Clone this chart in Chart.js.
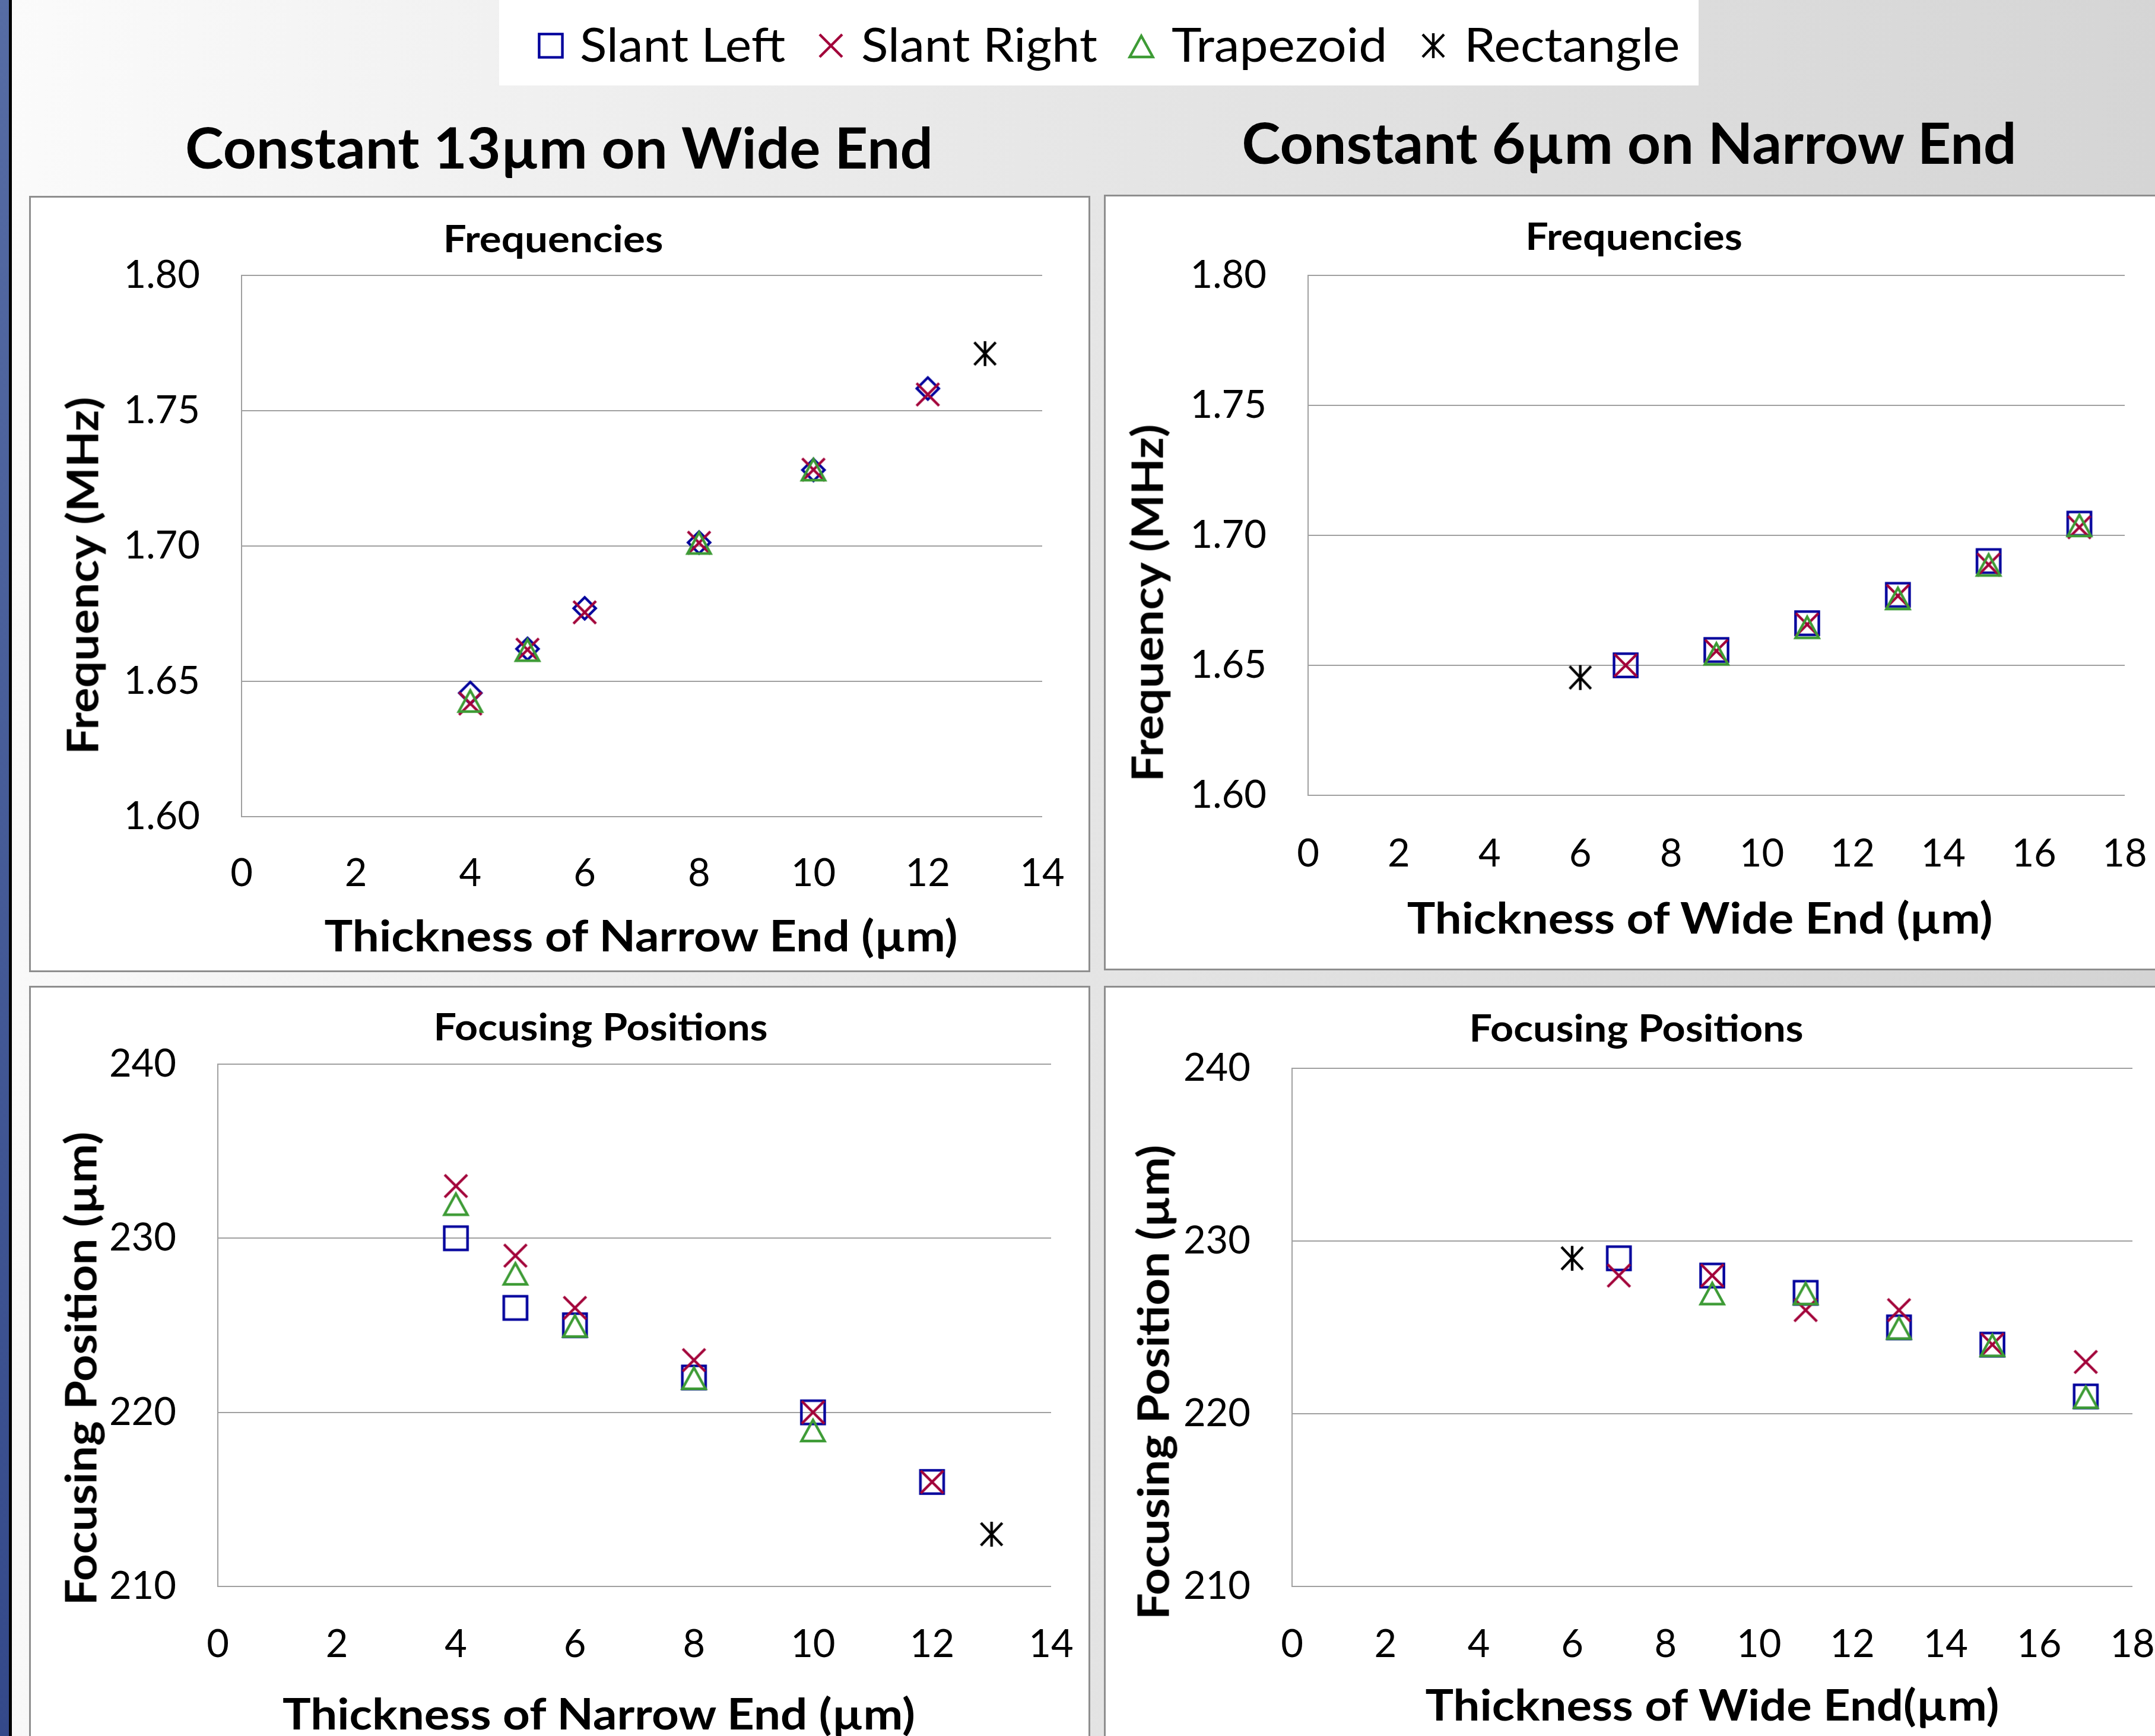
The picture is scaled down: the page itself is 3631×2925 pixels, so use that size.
<!DOCTYPE html>
<html>
<head>
<meta charset="utf-8">
<title>Frequencies and Focusing Positions</title>
<script src="https://cdn.jsdelivr.net/npm/chart.js@4.4.1/dist/chart.umd.min.js"></script>
<style>
  html, body { margin:0; padding:0; }
  body { width:3631px; height:2925px; overflow:hidden; position:relative;
         background: linear-gradient(95deg, #fbfbfb 0%, #ededed 30%, #dfdfdf 65%, #d3d3d3 100%);
         font-family: Lato, 'Open Sans', sans-serif; color:#000; }
  .abs { position:absolute; }
  #stripe { left:0; top:0; width:15px; height:2925px; background: linear-gradient(#566ca4, #34498a); }
  #stripeLine { left:15px; top:0; width:5px; height:2925px; background:#000; }
  #legendBox { left:841px; top:0; width:2021px; height:144px; background:#fff; }
  .panel { position:absolute; background:#fff; border:3px solid #8e8e8e; box-sizing:border-box; }
  .txt { position:absolute; white-space:nowrap; line-height:1; color:#000; }
  canvas { position:absolute; }
</style>
</head>
<body>
<div id="stripe" class="abs"></div>
<div id="stripeLine" class="abs"></div>
<div id="legendBox" class="abs"></div>
<div class="panel" style="left:49px;top:330px;width:1788px;height:1308px"></div>
<div class="panel" style="left:1860px;top:328px;width:1790px;height:1307px"></div>
<div class="panel" style="left:49px;top:1661px;width:1788px;height:1320px"></div>
<div class="panel" style="left:1860px;top:1661px;width:1790px;height:1320px"></div>
<script>
// ---------------- DATA ----------------
const seriesNames = ['Slant Left', 'Slant Right', 'Trapezoid', 'Rectangle'];

const narrowTicks = [0, 2, 4, 6, 8, 10, 12, 14];
const narrowTickLabels = ['0', '2', '4', '6', '8', '10', '12', '14'];
const wideTicks = [0, 2, 4, 6, 8, 10, 12, 14, 16, 18];
const wideTickLabels = ['0', '2', '4', '6', '8', '10', '12', '14', '16', '18'];
const freqTicks = [1.60, 1.65, 1.70, 1.75, 1.80];
const freqTickLabels = ['1.60', '1.65', '1.70', '1.75', '1.80'];
const focusTicks = [210, 220, 230, 240];
const focusTickLabels = ['210', '220', '230', '240'];

// Constant 13 µm on wide end — Frequencies vs thickness of narrow end
const tlSlantLeftX  = [4, 5, 6, 8, 10, 12];
const tlSlantLeftY  = [1.6457, 1.6620, 1.6770, 1.7013, 1.7281, 1.7582];
const tlSlantRightX = [4, 5, 6, 8, 10, 12];
const tlSlantRightY = [1.6418, 1.6617, 1.6755, 1.7012, 1.7282, 1.7560];
const tlTrapezoidX  = [4, 5, 8, 10];
const tlTrapezoidY  = [1.6430, 1.6618, 1.7014, 1.7285];
const tlRectangleX  = [13];
const tlRectangleY  = [1.7711];

// Constant 6 µm on narrow end — Frequencies vs thickness of wide end
const trSlantLeftX  = [7, 9, 11, 13, 15, 17];
const trSlantLeftY  = [1.6500, 1.6559, 1.6662, 1.6771, 1.6901, 1.7045];
const trSlantRightX = [7, 9, 11, 13, 15, 17];
const trSlantRightY = [1.6500, 1.6555, 1.6657, 1.6767, 1.6887, 1.7031];
const trTrapezoidX  = [9, 11, 13, 15, 17];
const trTrapezoidY  = [1.6547, 1.6649, 1.6760, 1.6889, 1.7041];
const trRectangleX  = [6];
const trRectangleY  = [1.6453];

// Constant 13 µm on wide end — Focusing positions vs thickness of narrow end
const blSlantLeftX  = [4, 5, 6, 8, 10, 12];
const blSlantLeftY  = [230, 226, 225, 222, 220, 216];
const blSlantRightX = [4, 5, 6, 8, 10, 12];
const blSlantRightY = [233, 229, 226, 223, 220, 216];
const blTrapezoidX  = [4, 5, 6, 8, 10];
const blTrapezoidY  = [232, 228, 225, 222, 219];
const blRectangleX  = [13];
const blRectangleY  = [213];

// Constant 6 µm on narrow end — Focusing positions vs thickness of wide end
const brSlantLeftX  = [7, 9, 11, 13, 15, 17];
const brSlantLeftY  = [229, 228, 227, 225, 224, 221];
const brSlantRightX = [7, 9, 11, 13, 15, 17];
const brSlantRightY = [228, 228, 226, 226, 224, 223];
const brTrapezoidX  = [9, 11, 13, 15, 17];
const brTrapezoidY  = [227, 227, 225, 224, 221];
const brRectangleX  = [6];
const brRectangleY  = [229];

// ---------------- STYLE ----------------
const FONT = 'Lato';
const COL_SL = '#00009c', COL_SR = '#a20039', COL_TR = '#3d9b35', COL_RE = '#000000';
const TICK_FS = 65;

function marker(kind, color) {
  const S = 64, c = S / 2;
  const cv = document.createElement('canvas');
  cv.width = S; cv.height = S;
  const g = cv.getContext('2d');
  g.strokeStyle = color; g.lineWidth = 4.4; g.lineJoin = 'miter'; g.miterLimit = 10; g.lineCap = 'butt';
  g.beginPath();
  if (kind === 'square') {
    g.rect(c - 19.6, c - 19.6, 39.2, 39.2);
  } else if (kind === 'diamond') {
    g.moveTo(c, c - 18.5); g.lineTo(c + 18.5, c); g.lineTo(c, c + 18.5); g.lineTo(c - 18.5, c); g.closePath();
  } else if (kind === 'triangle') {
    g.moveTo(c, c - 16.5); g.lineTo(c + 19.5, c + 19); g.lineTo(c - 19.5, c + 19); g.closePath();
  } else if (kind === 'x') {
    g.moveTo(c - 19, c - 19); g.lineTo(c + 19, c + 19);
    g.moveTo(c + 19, c - 19); g.lineTo(c - 19, c + 19);
  } else if (kind === 'star') {
    g.moveTo(c - 18, c - 19); g.lineTo(c + 18, c + 19);
    g.moveTo(c + 18, c - 19); g.lineTo(c - 18, c + 19);
    g.moveTo(c, c - 21); g.lineTo(c, c + 21);
  }
  g.stroke();
  return cv;
}

function pts(xs, ys) { return xs.map((x, i) => ({ x: x, y: ys[i] })); }

function ds(label, xs, ys, style, order) {
  return { label: label, data: pts(xs, ys), pointStyle: style, pointRadius: 10,
           showLine: false, clip: false, order: order };
}

function buildChart(spec) {
  const cv = document.createElement('canvas');
  cv.width = spec.cw; cv.height = spec.ch;
  cv.style.left = spec.cl + 'px'; cv.style.top = spec.ct + 'px';
  cv.style.width = spec.cw + 'px'; cv.style.height = spec.ch + 'px';
  document.body.appendChild(cv);

  const W = spec.L - spec.cl;
  const padR = spec.cl + spec.cw - spec.R;
  const padT = spec.T - spec.ct;
  const H = spec.xdy + 50;
  const padB = spec.ct + spec.ch - spec.B - H;
  const gridCol = '#a0a0a0';

  new Chart(cv, {
    type: 'scatter',
    data: { datasets: spec.datasets },
    options: {
      responsive: false, animation: false, devicePixelRatio: 1, events: [],
      layout: { padding: { left: 0, right: padR, top: padT, bottom: padB } },
      plugins: {
        legend: { display: false },
        tooltip: { enabled: false },
        title: { display: false }
      },
      scales: {
        x: {
          type: 'linear', min: spec.xTicks[0], max: spec.xTicks[spec.xTicks.length - 1],
          afterBuildTicks: s => { s.ticks = spec.xTicks.map(v => ({ value: v })); },
          afterFit: s => { s.height = H; s.paddingLeft = 0; s.paddingRight = 0; },
          grid: { display: false, drawTicks: false },
          border: { display: false },
          ticks: { padding: spec.xdy - 38, autoSkip: false, maxRotation: 0, minRotation: 0, color: '#000',
                   font: { family: FONT, size: TICK_FS }, callback: (v, i) => spec.xLabels[i] }
        },
        y: {
          type: 'linear', min: spec.yTicks[0], max: spec.yTicks[spec.yTicks.length - 1],
          afterBuildTicks: s => { s.ticks = spec.yTicks.map(v => ({ value: v })); },
          afterFit: s => { s.width = W; s.paddingTop = 0; s.paddingBottom = 0; },
          grid: { color: gridCol, lineWidth: 2, drawTicks: false },
          border: { display: true, color: gridCol, width: 2 },
          ticks: { padding: 70, autoSkip: false, color: '#000',
                   font: { family: FONT, size: TICK_FS }, callback: (v, i) => spec.yLabels[i] }
        }
      }
    }
  });
}

function placeText(t) {
  const d = document.createElement('div');
  d.className = 'txt';
  d.textContent = t.text;
  d.style.fontFamily = FONT;
  d.style.fontSize = t.fs + 'px';
  d.style.fontWeight = t.bold ? 'bold' : 'normal';
  document.body.appendChild(d);
  const nat = d.offsetWidth;
  const k = (t.w + 0.05 * t.fs) / nat;
  if (t.rot) {
    d.style.left = (t.cx - 0.029 * t.fs) + 'px';
    d.style.top = t.cy + 'px';
    d.style.transform = 'translate(-50%,-50%) rotate(-90deg) scaleX(' + k + ')';
  } else if (t.left !== undefined) {
    d.style.left = t.left + 'px';
    d.style.top = (t.cy - 0.029 * t.fs) + 'px';
    d.style.transformOrigin = 'left center';
    d.style.transform = 'translateY(-50%) scaleX(' + k + ')';
  } else {
    d.style.left = t.cx + 'px';
    d.style.top = (t.cy - 0.029 * t.fs) + 'px';
    d.style.transform = 'translate(-50%,-50%) scaleX(' + k + ')';
  }
}

function placeMarker(cv, cx, cy) {
  cv.style.left = (cx - cv.width / 2) + 'px';
  cv.style.top = (cy - cv.height / 2) + 'px';
  document.body.appendChild(cv);
}

// ---------------- CHARTS ----------------
buildChart({
  cl: 52, ct: 333, cw: 1782, ch: 1302, L: 407, T: 464, R: 1756, B: 1376, xdy: 95,
  xTicks: narrowTicks, xLabels: narrowTickLabels, yTicks: freqTicks, yLabels: freqTickLabels,
  datasets: [
    ds(seriesNames[0], tlSlantLeftX, tlSlantLeftY, marker('diamond', COL_SL), 4),
    ds(seriesNames[1], tlSlantRightX, tlSlantRightY, marker('x', COL_SR), 3),
    ds(seriesNames[2], tlTrapezoidX, tlTrapezoidY, marker('triangle', COL_TR), 2),
    ds(seriesNames[3], tlRectangleX, tlRectangleY, marker('star', COL_RE), 1)
  ]
});
buildChart({
  cl: 1863, ct: 331, cw: 1788, ch: 1301, L: 2204, T: 464, R: 3580, B: 1340, xdy: 98,
  xTicks: wideTicks, xLabels: wideTickLabels, yTicks: freqTicks, yLabels: freqTickLabels,
  datasets: [
    ds(seriesNames[0], trSlantLeftX, trSlantLeftY, marker('square', COL_SL), 4),
    ds(seriesNames[1], trSlantRightX, trSlantRightY, marker('x', COL_SR), 3),
    ds(seriesNames[2], trTrapezoidX, trTrapezoidY, marker('triangle', COL_TR), 2),
    ds(seriesNames[3], trRectangleX, trRectangleY, marker('star', COL_RE), 1)
  ]
});
buildChart({
  cl: 52, ct: 1664, cw: 1782, ch: 1261, L: 367, T: 1793, R: 1771, B: 2673, xdy: 97,
  xTicks: narrowTicks, xLabels: narrowTickLabels, yTicks: focusTicks, yLabels: focusTickLabels,
  datasets: [
    ds(seriesNames[0], blSlantLeftX, blSlantLeftY, marker('square', COL_SL), 4),
    ds(seriesNames[1], blSlantRightX, blSlantRightY, marker('x', COL_SR), 3),
    ds(seriesNames[2], blTrapezoidX, blTrapezoidY, marker('triangle', COL_TR), 2),
    ds(seriesNames[3], blRectangleX, blRectangleY, marker('star', COL_RE), 1)
  ]
});
buildChart({
  cl: 1863, ct: 1664, cw: 1788, ch: 1261, L: 2177, T: 1800, R: 3593, B: 2673, xdy: 97,
  xTicks: wideTicks, xLabels: wideTickLabels, yTicks: focusTicks, yLabels: focusTickLabels,
  datasets: [
    ds(seriesNames[0], brSlantLeftX, brSlantLeftY, marker('square', COL_SL), 4),
    ds(seriesNames[1], brSlantRightX, brSlantRightY, marker('x', COL_SR), 3),
    ds(seriesNames[2], brTrapezoidX, brTrapezoidY, marker('triangle', COL_TR), 2),
    ds(seriesNames[3], brRectangleX, brRectangleY, marker('star', COL_RE), 1)
  ]
});

// ---------------- TEXT ----------------
placeText({ text: 'Constant 13µm on Wide End', cx: 942, cy: 249.5, w: 1255, fs: 96, bold: true });
placeText({ text: 'Constant 6µm on Narrow End', cx: 2745, cy: 241.5, w: 1301, fs: 96, bold: true });

placeText({ text: 'Frequencies', cx: 932, cy: 402, w: 368, fs: 63, bold: true });
placeText({ text: 'Frequencies', cx: 2753, cy: 398, w: 363, fs: 63, bold: true });
placeText({ text: 'Focusing Positions', cx: 1012, cy: 1730, w: 560, fs: 63, bold: true });
placeText({ text: 'Focusing Positions', cx: 2757, cy: 1732, w: 560, fs: 63, bold: true });

placeText({ text: 'Thickness of Narrow End (µm)', cx: 1080, cy: 1577, w: 1063, fs: 73, bold: true });
placeText({ text: 'Thickness of Wide End (µm)', cx: 2864, cy: 1547, w: 983, fs: 73, bold: true });
placeText({ text: 'Thickness of Narrow End (µm)', cx: 1009, cy: 2888, w: 1062, fs: 73, bold: true });
placeText({ text: 'Thickness of Wide End(µm)', cx: 2885, cy: 2873, w: 963, fs: 73, bold: true });

placeText({ text: 'Frequency (MHz)', cx: 140, cy: 970, w: 599, fs: 73, bold: true, rot: true });
placeText({ text: 'Frequency (MHz)', cx: 1934, cy: 1016, w: 599, fs: 73, bold: true, rot: true });
placeText({ text: 'Focusing Position (µm)', cx: 137, cy: 2306, w: 794, fs: 73, bold: true, rot: true });
placeText({ text: 'Focusing Position (µm)', cx: 1944, cy: 2329, w: 796, fs: 73, bold: true, rot: true });

// legend
const legendTextLeft = [977, 1451, 1974, 2467];
const legendTextW = [342, 394, 359, 359];
const legendMarkerX = [928, 1400, 1923, 2415];
const legendKinds = ['square', 'x', 'triangle', 'star'];
const legendCols = [COL_SL, COL_SR, COL_TR, COL_RE];
seriesNames.forEach((name, i) => {
  placeMarker(marker(legendKinds[i], legendCols[i]), legendMarkerX[i], 77);
  placeText({ text: name, left: legendTextLeft[i], cy: 75, w: legendTextW[i], fs: 79, bold: false });
});
</script>
</body>
</html>
